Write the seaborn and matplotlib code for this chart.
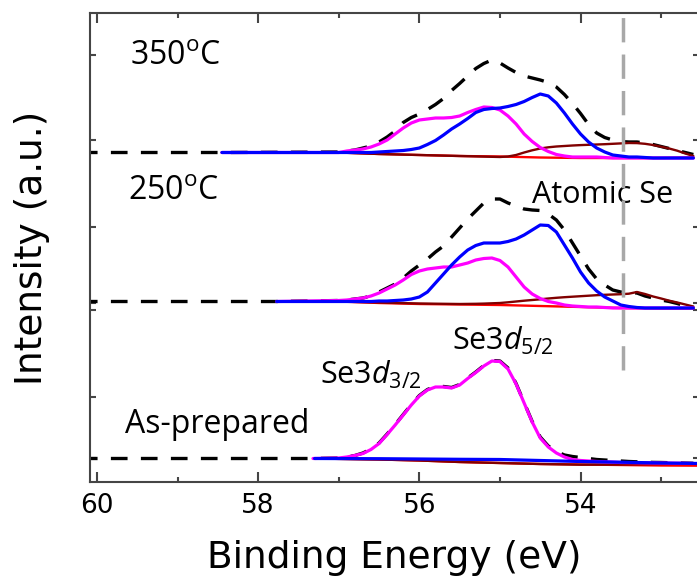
import matplotlib
matplotlib.use("Agg")
import matplotlib.pyplot as plt
from matplotlib.ticker import MultipleLocator
import pandas as pd
import seaborn as sns

# ─────────────────────────────────────────
# Data (binding energy in eV, intensity in a.u. above each baseline)
# ─────────────────────────────────────────
energy = [57.0, 56.9, 56.8, 56.7, 56.6, 56.5, 56.4, 56.3, 56.2, 56.1,
          56.0, 55.9, 55.8, 55.7, 55.6, 55.5, 55.4, 55.3, 55.2, 55.1,
          55.0, 54.9, 54.8, 54.7, 54.6, 54.5, 54.4, 54.3, 54.2, 54.1,
          54.0, 53.9, 53.8, 53.7, 53.6, 53.5, 53.4, 53.3, 53.2, 53.1,
          53.0, 52.9, 52.8, 52.7, 52.6]

# 350 C
t350_data = [0.005, 0.015, 0.025, 0.045, 0.065, 0.105, 0.155, 0.215, 0.30, 0.35,
             0.385, 0.43, 0.48, 0.54, 0.62, 0.69, 0.765, 0.84, 0.89, 0.925,
             0.895, 0.845, 0.80, 0.765, 0.745, 0.725, 0.70, 0.655, 0.58, 0.49,
             0.39, 0.28, 0.195, 0.15, 0.125, 0.11, 0.105, 0.105, 0.095, 0.08,
             0.06, 0.04, 0.02, 0.0, -0.02]
t350_d32 = [0.0, 0.015, 0.025, 0.035, 0.055, 0.085, 0.125, 0.185, 0.245, 0.295,
            0.325, 0.335, 0.345, 0.345, 0.35, 0.365, 0.40, 0.43, 0.455, 0.45,
            0.425, 0.365, 0.285, 0.185, 0.11, 0.05, 0.01, -0.02, -0.035, -0.045,
            -0.045, -0.045, -0.045, -0.05, -0.055, -0.055, -0.055, -0.055, -0.055, -0.055,
            -0.055, -0.055, -0.055, -0.055, -0.055]
t350_d52 = [0.0, 0.0, 0.0, 0.0, 0.0, 0.005, 0.01, 0.015, 0.02, 0.03,
            0.045, 0.08, 0.12, 0.175, 0.235, 0.285, 0.34, 0.40, 0.43, 0.44,
            0.445, 0.46, 0.48, 0.51, 0.55, 0.585, 0.565, 0.495, 0.395, 0.285,
            0.185, 0.105, 0.045, 0.005, -0.025, -0.035, -0.045, -0.045, -0.05, -0.055,
            -0.055, -0.055, -0.055, -0.055, -0.055]
t350_atomic = [0.0, -0.003, -0.006, -0.009, -0.012, -0.015, -0.017, -0.019, -0.021, -0.023,
               -0.025, -0.027, -0.029, -0.031, -0.033, -0.035, -0.037, -0.039, -0.041, -0.043,
               -0.045, -0.04, -0.025, 0.0, 0.022, 0.04, 0.052, 0.06, 0.065, 0.07,
               0.074, 0.077, 0.08, 0.083, 0.087, 0.091, 0.095, 0.094, 0.087, 0.075,
               0.058, 0.04, 0.018, -0.01, -0.035]
t350_bg = [0.0, -0.003, -0.006, -0.009, -0.012, -0.015, -0.017, -0.019, -0.021, -0.023,
           -0.025, -0.027, -0.029, -0.031, -0.033, -0.035, -0.036, -0.037, -0.038, -0.039,
           -0.04, -0.042, -0.044, -0.046, -0.048, -0.05, -0.051, -0.052, -0.053, -0.054,
           -0.055, -0.055, -0.055, -0.055, -0.055, -0.055, -0.055, -0.055, -0.055, -0.055,
           -0.055, -0.054, -0.053, -0.052, -0.05]

# 250 C
t250_data = [0.01, 0.015, 0.025, 0.035, 0.055, 0.095, 0.135, 0.175, 0.235, 0.305,
             0.365, 0.425, 0.495, 0.555, 0.645, 0.735, 0.825, 0.905, 0.985, 1.025,
             1.025, 0.985, 0.955, 0.925, 0.915, 0.91, 0.875, 0.815, 0.715, 0.585,
             0.455, 0.325, 0.225, 0.165, 0.115, 0.095, 0.085, 0.085, 0.055, 0.035,
             0.015, 0.0, -0.02, -0.045, -0.06]
t250_d32 = [0.01, 0.015, 0.025, 0.035, 0.055, 0.085, 0.125, 0.165, 0.215, 0.27,
            0.305, 0.325, 0.335, 0.345, 0.345, 0.365, 0.385, 0.415, 0.43, 0.435,
            0.41, 0.345, 0.245, 0.145, 0.075, 0.03, 0.0, -0.015, -0.035, -0.045,
            -0.05, -0.055, -0.055, -0.06, -0.065, -0.065, -0.065, -0.065, -0.065, -0.065,
            -0.065, -0.065, -0.065, -0.065, -0.065]
t250_d52 = [0.0, 0.0, 0.0, 0.0, 0.0, 0.005, 0.005, 0.01, 0.015, 0.025,
            0.045, 0.095, 0.185, 0.275, 0.365, 0.445, 0.515, 0.56, 0.585, 0.585,
            0.585, 0.60, 0.625, 0.665, 0.715, 0.765, 0.76, 0.695, 0.565, 0.435,
            0.295, 0.185, 0.105, 0.045, 0.005, -0.035, -0.05, -0.06, -0.065, -0.065,
            -0.065, -0.065, -0.065, -0.065, -0.065]
t250_atomic = [0.0, -0.002, -0.004, -0.006, -0.008, -0.01, -0.012, -0.014, -0.016, -0.018,
               -0.02, -0.021, -0.022, -0.023, -0.024, -0.025, -0.024, -0.023, -0.021, -0.018,
               -0.015, -0.008, 0.0, 0.008, 0.015, 0.022, 0.03, 0.037, 0.043, 0.048,
               0.053, 0.058, 0.063, 0.067, 0.07, 0.073, 0.078, 0.095, 0.075, 0.05,
               0.03, 0.008, -0.01, -0.03, -0.05]
t250_bg = [0.0, -0.003, -0.006, -0.009, -0.012, -0.015, -0.017, -0.019, -0.021, -0.023,
           -0.025, -0.026, -0.027, -0.028, -0.029, -0.03, -0.031, -0.032, -0.033, -0.034,
           -0.035, -0.037, -0.039, -0.041, -0.043, -0.045, -0.047, -0.049, -0.051, -0.053,
           -0.055, -0.057, -0.059, -0.061, -0.063, -0.065, -0.066, -0.067, -0.068, -0.069,
           -0.07, -0.07, -0.07, -0.07, -0.07]

# As-prepared
ap_data = [0.005, 0.015, 0.03, 0.055, 0.095, 0.155, 0.245, 0.34, 0.44, 0.54,
           0.63, 0.69, 0.72, 0.72, 0.71, 0.74, 0.805, 0.865, 0.93, 0.98,
           0.975, 0.905, 0.75, 0.56, 0.37, 0.215, 0.125, 0.07, 0.035, 0.02,
           0.01, 0.0, -0.01, -0.015, -0.02, -0.025, -0.03, -0.033, -0.036, -0.039,
           -0.04, -0.042, -0.044, -0.046, -0.048]
ap_d32 = [0.005, 0.015, 0.03, 0.05, 0.09, 0.15, 0.24, 0.335, 0.435, 0.535,
          0.625, 0.685, 0.715, 0.715, 0.705, 0.735, 0.80, 0.86, 0.925, 0.975,
          0.97, 0.895, 0.745, 0.555, 0.365, 0.205, 0.115, 0.055, 0.015, -0.01,
          -0.02, -0.025, -0.03, -0.033, -0.036, -0.04, -0.041, -0.042, -0.043, -0.044,
          -0.045, -0.046, -0.047, -0.048, -0.05]
ap_flat_energy = [57.3, 56.5, 56.0, 55.5, 55.0, 54.5, 54.0, 53.5, 53.0, 52.5]
ap_d52 = [0.0, -0.002, -0.005, -0.008, -0.01, -0.02, -0.03, -0.037, -0.045, -0.05]
ap_atomic = [0.0, -0.01, -0.02, -0.035, -0.045, -0.055, -0.062, -0.06, -0.055, -0.05]
ap_bg = [0.0, -0.01, -0.02, -0.035, -0.045, -0.055, -0.06, -0.065, -0.07, -0.072]

# where each spectrum's fit starts on the left, and stacking offsets
fit_start = {"350": 58.45, "250": 57.77, "ap": 57.32}
offsets = {"350": 3.295, "250": 1.805, "ap": 0.235}
data_start = 60.2
atomic_se_be = 53.47
ytick_pos = [0.24, 0.85, 1.72, 1.79, 2.55, 3.42, 4.27]

colors = {"data": "black", "bg": "#ff0000", "atomic": "#800000",
          "d32": "#ff00ff", "d52": "#0000ff"}

# ─────────────────────────────────────────
# Style
# ─────────────────────────────────────────
sns.set_theme(style="ticks")
plt.rcParams["font.family"] = ["DejaVu Sans"]
plt.rcParams["text.color"] = "black"
plt.rcParams["axes.labelcolor"] = "black"
plt.rcParams["mathtext.fontset"] = "custom"
plt.rcParams["mathtext.rm"] = "Open Sans"
plt.rcParams["mathtext.it"] = "Open Sans:italic"

fig = plt.figure(figsize=(6.97, 5.79), dpi=100)
ax = fig.add_axes([90 / 697, 97 / 579, 609 / 697, 469 / 579])


def draw(ax, xs, ys, off, color, lw, ls="-"):
    df = pd.DataFrame({"E": xs, "I": [v + off for v in ys]})
    sns.lineplot(data=df, x="E", y="I", ax=ax, color=color, linewidth=lw,
                 linestyle=ls, sort=False, estimator=None, legend=False)


spectra = [
    ("350", t350_data, t350_bg, t350_atomic, t350_d32, t350_d52),
    ("250", t250_data, t250_bg, t250_atomic, t250_d32, t250_d52),
]
dash = (0, (5, 4))
for key, dat, bg, atomic, d32, d52 in spectra:
    off = offsets[key]
    draw(ax, [data_start, fit_start[key]] + energy, [0, 0] + dat, off, colors["data"], 2.4, dash)
    for comp, name, lw in [(bg, "bg", 1.7), (atomic, "atomic", 1.7), (d32, "d32", 2.3), (d52, "d52", 2.3)]:
        draw(ax, [fit_start[key]] + energy, [0] + comp, off, colors[name], lw)

off = offsets["ap"]
draw(ax, [data_start, fit_start["ap"]] + energy, [0, 0] + ap_data, off, colors["data"], 2.4, dash)
draw(ax, ap_flat_energy, ap_bg, off, colors["bg"], 1.7)
draw(ax, ap_flat_energy, ap_atomic, off, colors["atomic"], 1.7)
draw(ax, [fit_start["ap"]] + energy, [0] + ap_d32, off, colors["d32"], 2.3)
draw(ax, ap_flat_energy, ap_d52, off, colors["d52"], 2.3)

ax.axvline(atomic_se_be, ymin=1.12 / 4.69, ymax=1.0, color="#a8a8a8",
           lw=2.5, linestyle=(0, (7, 3.5)), zorder=5)

# ─────────────────────────────────────────
# Annotations
# ─────────────────────────────────────────
ann = dict(fontsize=23, family="Open Sans", va="baseline", ha="left", zorder=3)
ax.text(59.59, 4.17, r"350$^{\mathrm{o}}$C", **ann)
ax.text(59.615, 2.82, r"250$^{\mathrm{o}}$C", **ann)
ax.text(59.65, 0.49, "As-prepared", **ann)
ax.text(54.60, 2.79, "Atomic Se", fontsize=22, family="Open Sans", va="baseline", ha="left", zorder=3)
ax.text(57.23, 0.98, r"Se3$\mathit{d}_{\mathrm{3/2}}$", fontsize=22, family="Open Sans", va="baseline", zorder=3)
ax.text(55.60, 1.32, r"Se3$\mathit{d}_{\mathrm{5/2}}$", fontsize=22, family="Open Sans", va="baseline", zorder=3)

# ─────────────────────────────────────────
# Axes
# ─────────────────────────────────────────
ax.set_xlim(60.087, 52.53)
ax.set_ylim(0, 4.69)
ax.xaxis.set_major_locator(MultipleLocator(2))
ax.xaxis.set_minor_locator(MultipleLocator(1))
ax.set_yticks(ytick_pos)
ax.set_yticklabels([])

spine_c = "#454545"
for s in ax.spines.values():
    s.set_color(spine_c)
    s.set_linewidth(1.5)
ax.tick_params(axis="x", which="major", direction="in", length=7, width=1.5,
               top=True, color=spine_c, labelcolor="black", labelsize=19, pad=8)
ax.tick_params(axis="x", which="minor", direction="in", length=3.5, width=1.5,
               top=True, color=spine_c)
ax.tick_params(axis="y", which="major", direction="in", length=4.5, width=1.5,
               right=True, color=spine_c)

ax.set_xlabel("Binding Energy (eV)", fontsize=27, labelpad=15)
ax.set_ylabel("Intensity (a.u.)", fontsize=27, labelpad=25)

fig.savefig("out.png", dpi=100)
